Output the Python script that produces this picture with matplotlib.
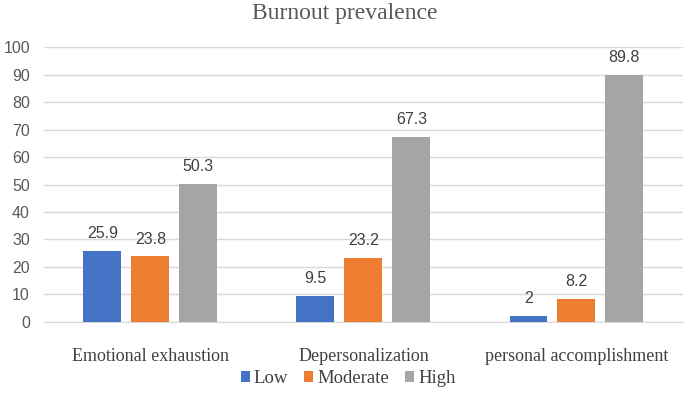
import matplotlib
matplotlib.use("Agg")
import matplotlib.pyplot as plt
import numpy as np

categories = ["Emotional exhaustion", "Depersonalization", "personal accomplishment"]
series_names = ["Low", "Moderate", "High"]
low = [25.9, 9.5, 2]
moderate = [23.8, 23.2, 8.2]
high = [50.3, 67.3, 89.8]
colors = ["#4472C4", "#ED7D31", "#A5A5A5"]

fig = plt.figure(figsize=(6.85, 3.93), dpi=100)
ax = fig.add_axes([0.064, 0.181, 0.933, 0.699])

x = np.arange(len(categories))
w = 0.178
gap = 0.047
offsets = [-(w + gap), 0, (w + gap)]
for vals, name, c, off in zip([low, moderate, high], series_names, colors, offsets):
    bars = ax.bar(x + off, vals, width=w, color=c, label=name, zorder=3)
    for b, v in zip(bars, vals):
        ax.text(b.get_x() + b.get_width() / 2, v + 3.6, f"{v:g}", ha="center", va="bottom",
                fontsize=11.5, color="#404040", family="Liberation Sans")

ax.set_xlim(-0.5, 2.5)
ax.set_ylim(0, 100)
ax.set_yticks(np.arange(0, 101, 10))
ax.yaxis.grid(True, color="#D9D9D9", linewidth=1, zorder=0)
ax.set_axisbelow(True)
for s in ["top", "right", "left"]:
    ax.spines[s].set_visible(False)
ax.spines["bottom"].set_color("#D9D9D9")
ax.tick_params(axis="y", length=0, labelsize=11.5, labelcolor="#595959", pad=10)
ax.tick_params(axis="x", length=0, labelsize=13, labelcolor="#404040", pad=19)
for lab in ax.get_yticklabels():
    lab.set_family("Liberation Sans")
ax.set_xticks(x)
ax.set_xticklabels(categories, family="Liberation Serif")

fig.text(0.504, 0.966, "Burnout prevalence", ha="center", va="center", fontsize=17,
         color="#595959", family="Liberation Serif")

leg = fig.legend(loc="center", bbox_to_anchor=(0.508, 0.036), ncol=3, frameon=False,
                 prop={"family": "Liberation Serif", "size": 13.5}, handlelength=0.5,
                 handleheight=0.5, handletextpad=0.2, columnspacing=0.85)
for t in leg.get_texts():
    t.set_color("#404040")

fig.savefig("out.png", dpi=100)
